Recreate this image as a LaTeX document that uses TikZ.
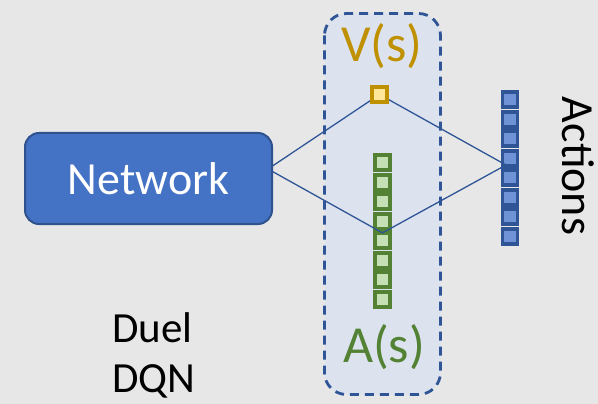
\documentclass[tikz,border=0pt]{standalone}
\usepackage{fontspec}
\setmainfont{Carlito}
\pgfdeclarelayer{front}
\pgfsetlayers{main,front}
\definecolor{bgcol}{HTML}{E7E7E7}
\definecolor{panelfill}{HTML}{DCE3EF}
\definecolor{navy}{HTML}{2F5597}
\definecolor{netblue}{HTML}{4472C4}
\definecolor{netedge}{HTML}{2F528F}
\definecolor{gold}{HTML}{BF9000}
\definecolor{goldlight}{HTML}{FFE699}
\definecolor{leaf}{HTML}{548235}
\definecolor{leaflight}{HTML}{C5E0B4}
\definecolor{actlight}{HTML}{7092D6}
\tikzset{
  cellbox/.style={rectangle, inner sep=0pt, minimum size=15pt, line width=3.8pt},
  vcell/.style={cellbox, draw=gold, fill=goldlight},
  gcell/.style={cellbox, draw=leaf, fill=leaflight},
  acell/.style={cellbox, draw=navy, fill=actlight},
  link/.style={draw=navy, line width=1.3pt},
  bigtext/.style={inner sep=0pt, font=\fontsize{52}{62}\selectfont},
  labeltext/.style={inner sep=0pt, font=\fontsize{46}{55}\selectfont}
}
\begin{document}
\begin{tikzpicture}[x=1pt, y=-1pt]
  % canvas
  \fill[bgcol] (0,0) rectangle (598,404);
  \useasboundingbox (0,0) rectangle (598,404);

  % dashed panel holding the two streams
  \draw[navy, fill=panelfill, line width=2.8pt, dash pattern=on 9pt off 6pt,
        rounded corners=22pt] (324.5,13.5) rectangle (440.5,394.5);

  % advantage stream and action outputs
  \foreach \i in {1,...,8} {
    \node[gcell] (g\i) at (382.5,{143.25+19.5*\i}) {};
    \node[acell] (a\i) at (510,{80.25+19.5*\i}) {};
  }

  % value unit and network block (drawn above the links)
  \begin{pgfonlayer}{front}
    \node[vcell] (v) at (379.5,94.5) {};
    \node[rectangle, rounded corners=14pt, draw=netedge, line width=2pt,
          fill=netblue, minimum width=247pt, minimum height=91pt]
          (net) at (148.5,178.5) {};
  \end{pgfonlayer}

  % link points
  \coordinate (nethub) at (268,169);
  \coordinate (acthub) at (506,165);
  \coordinate (gjoin) at ([yshift=-1.5pt]g5.north);

  \draw[link] (nethub) -- (v.center) -- (acthub);
  \draw[link] (nethub) -- (gjoin) -- (acthub);

  % labels
  \begin{pgfonlayer}{front}
    \node[labeltext, text=white, anchor=base] (nettext) at (148.5,194) {Network};
  \end{pgfonlayer}
  \node[bigtext, text=gold, anchor=base] (vtext) at (382,62) {V(s)};
  \node[bigtext, text=leaf, anchor=base] (atext) at (384,362) {A(s)};
  \node[labeltext, anchor=base, rotate=-90] (acttext) at (562,166) {Actions};
  \node[labeltext, font=\fontsize{43}{52}\selectfont, anchor=base west] (duel) at (112,342) {Duel};
  \node[labeltext, font=\fontsize{43}{52}\selectfont, anchor=base west] (dqn) at (112,392) {DQN};
\end{tikzpicture}
\end{document}
